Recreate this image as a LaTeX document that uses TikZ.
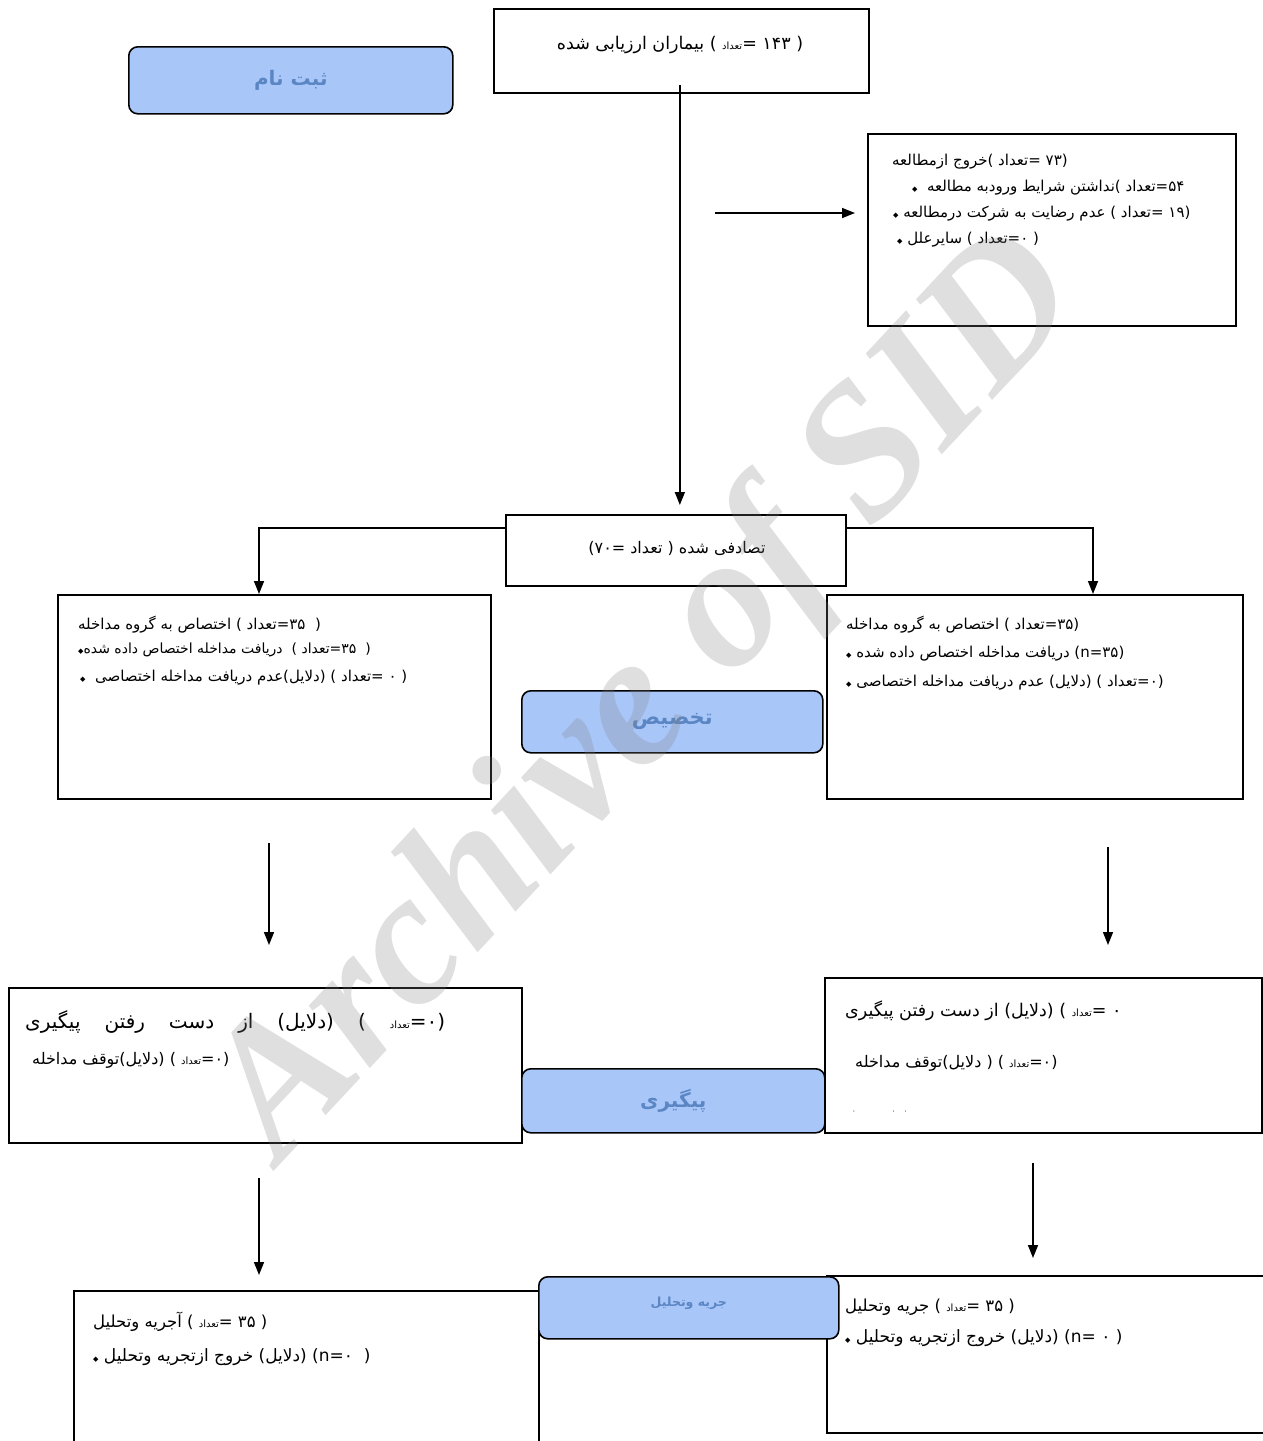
\documentclass[tikz,border=0pt]{standalone}
\usepackage{fontspec}
\setmainfont{DejaVu Sans}
\newfontfamily\arabicfont[Script=Arabic]{DejaVu Sans}
\newfontfamily\wmfont{Liberation Serif}
\TeXXeTstate=1
\usetikzlibrary{arrows.meta,calc}
\definecolor{bfill}{HTML}{A9C6F9}
\definecolor{btext}{HTML}{5B86C4}
\newcommand\fa[1]{{\arabicfont\beginR #1\endR}}
\newcommand\tdd{\fa{تعداد}}
\newcommand\sm[1]{{\fontsize{10}{12}\selectfont #1}}
\newcommand\bul{{\fontsize{7}{7}\selectfont ◆}}
\begin{document}
\begin{tikzpicture}[x=1pt,y=-1pt,
  box/.style={draw=black,line width=1.7pt,inner sep=0pt,anchor=north west},
  bluebox/.style={draw=black,line width=1.6pt,fill=bfill,rounded corners=9pt,inner sep=0pt,anchor=north west},
  btxt/.style={text=btext,font=\bfseries\fontsize{20}{22}\selectfont,inner sep=0pt},
  ln/.style={anchor=west,inner sep=0pt,font=\fontsize{15}{17}\selectfont},
  arr/.style={line width=1.5pt,-{Triangle[length=13pt,width=10pt]}},
]
\fill[white] (0,0) rectangle (1263,1441);
\useasboundingbox (0,0) rectangle (1263,1441);

% boxes
\node[box,minimum width=375pt,minimum height=84pt] (A) at (493,8) {};
\node[box,minimum width=368pt,minimum height=192pt] (B) at (867,133) {};
\node[box,minimum width=340pt,minimum height=71pt] (C) at (505,514) {};
\node[box,minimum width=433pt,minimum height=204pt] (D) at (57,594) {};
\node[box,minimum width=416pt,minimum height=204pt] (E) at (826,594) {};
\node[box,minimum width=513pt,minimum height=155pt] (F) at (8,987) {};
\node[box,minimum width=437pt,minimum height=155pt] (G) at (824,977) {};
\node[box,minimum width=465pt,minimum height=170pt] (H) at (73,1290) {};
\node[box,minimum width=460pt,minimum height=157pt] (I) at (826,1275) {};

% texts
\node[inner sep=0pt,font=\fontsize{17.5}{20}\selectfont] (a1) at (680,45) {\fa{بیماران ارزیابی شده} ( \sm{\tdd}= ۱۴۳ )};

\node[ln] (b1) at (892,162) {\fa{خروج ازمطالعه}( \tdd= ۷۳)};
\node[ln] (b2) at (912,188) {\bul\ \ \fa{نداشتن شرایط ورودبه مطالعه}( \tdd=۵۴};
\node[ln] (b3) at (893,214) {\bul\ \fa{عدم رضایت به شرکت درمطالعه} ( \tdd= ۱۹)};
\node[ln] (b4) at (897,240) {\bul\ \fa{سایرعلل} ( \tdd=۰ )};

\node[inner sep=0pt,font=\fontsize{16}{18}\selectfont] (c1) at (677,548) {(۷۰= \tdd\ ) \fa{تصادفی شده}};

\node[ln] (d1) at (78,625) {\fa{اختصاص به گروه مداخله} ( \tdd=۳۵\ \ )};
\node[ln,font=\fontsize{14}{16}\selectfont] (d2) at (78,650) {\bul\fa{دریافت مداخله اختصاص داده شده}\ \ ( \tdd=۳۵\ \ )};
\node[ln] (d3) at (80,678) {\bul\ \ \fa{عدم دریافت مداخله اختصاصی}(\fa{دلایل}) ( \tdd= ۰ )};

\node[ln] (e1) at (846,625) {\fa{اختصاص به گروه مداخله} ( \tdd=۳۵)};
\node[ln] (e2) at (846,654) {\bul\ \fa{دریافت مداخله اختصاص داده شده} (n=۳۵)};
\node[ln] (e3) at (846,683) {\bul\ \fa{عدم دریافت مداخله اختصاصی} (\fa{دلایل}) ( \tdd=۰)};

\node[ln,font=\fontsize{20}{22}\selectfont] (f1) at (25,1022) {\makebox[420pt][s]{\fa{از دست رفتن پیگیری} (\fa{دلایل}) ( \sm{\tdd}=۰)}};
\node[ln,font=\fontsize{16}{18}\selectfont] (f2) at (32,1060) {\fa{توقف مداخله}(\fa{دلایل}) ( \sm{\tdd}=۰)};

\node[ln,font=\fontsize{17.5}{20}\selectfont] (g1) at (845,1011) {\fa{از دست رفتن پیگیری} (\fa{دلایل}) ( \sm{\tdd}= ۰};
\node[ln,font=\fontsize{16}{18}\selectfont] (g2) at (855,1063) {\fa{توقف مداخله}(\fa{دلایل} ) ( \sm{\tdd}=۰)};
\node[ln,font=\fontsize{7}{7}\selectfont] (g3) at (852,1112) {۰\hspace{36pt}۰\hspace{8pt}۰};

\node[ln,font=\fontsize{16.5}{18}\selectfont] (h1) at (93,1322) {\fa{آجریه وتحلیل} ( \sm{\tdd}= ۳۵ )};
\node[ln,font=\fontsize{17}{19}\selectfont] (h2) at (93,1357) {\bul\ \fa{خروج ازتجریه وتحلیل} (\fa{دلایل}) (n=۰\ \ )};

\node[ln,font=\fontsize{16.5}{18}\selectfont] (i1) at (845,1307) {\fa{جریه وتحلیل} ( \sm{\tdd}= ۳۵ )};
\node[ln,font=\fontsize{17}{19}\selectfont] (i2) at (845,1338) {\bul\ \fa{خروج ازتجریه وتحلیل} (\fa{دلایل}) (n= ۰ )};

% connectors
\coordinate (exS) at (715,213);
\coordinate (exE) at (855,213);
\coordinate (dIn) at (259,594);
\coordinate (eIn) at (1093,594);
\coordinate (d0) at (269,843);
\coordinate (d1e) at (269,945);
\coordinate (e0) at (1108,847);
\coordinate (e1e) at (1108,945);
\coordinate (f0) at (259,1178);
\coordinate (f1e) at (259,1275);
\coordinate (g0) at (1033,1163);
\coordinate (g1e) at (1033,1258);

\draw[arr] ([xshift=-1.5pt,yshift=9pt]A.south) -- ([xshift=-1.5pt,yshift=9pt]A.south |- C.north);
\draw[arr] (exS) -- (exE);
\draw[arr] ([yshift=-14pt]C.north west) -| (dIn);
\draw[arr] ([yshift=-14pt]C.north east) -| (eIn);
\draw[arr] (d0) -- (d1e);
\draw[arr] (e0) -- (e1e);
\draw[arr] (f0) -- (f1e);
\draw[arr] (g0) -- (g1e);

% blue labels
\node[bluebox,minimum width=324pt,minimum height=67pt] (L1) at (128,46) {};
\node[btxt] at (L1.center) {\fa{ثبت نام}};
\node[bluebox,minimum width=301pt,minimum height=62pt] (L2) at (521,690) {};
\node[btxt,font=\bfseries\fontsize{21}{23}\selectfont] at (L2.center) {\fa{تخصیص}};
\node[bluebox,minimum width=303pt,minimum height=64pt] (L3) at (521,1068) {};
\node[btxt] at (L3.center) {\fa{پیگیری}};
\node[bluebox,minimum width=300pt,minimum height=62pt] (L4) at (538,1276) {};
\node[btxt,font=\bfseries\fontsize{12.5}{14}\selectfont] at ([yshift=5pt]L4.center) {\fa{جریه وتحلیل}};

% watermark
\node[rotate=47,text=gray,opacity=0.25,inner sep=0pt,font=\wmfont\bfseries\itshape\fontsize{190}{190}\selectfont] (wm) at (650,700) {Archive of SID};
\end{tikzpicture}
\end{document}
